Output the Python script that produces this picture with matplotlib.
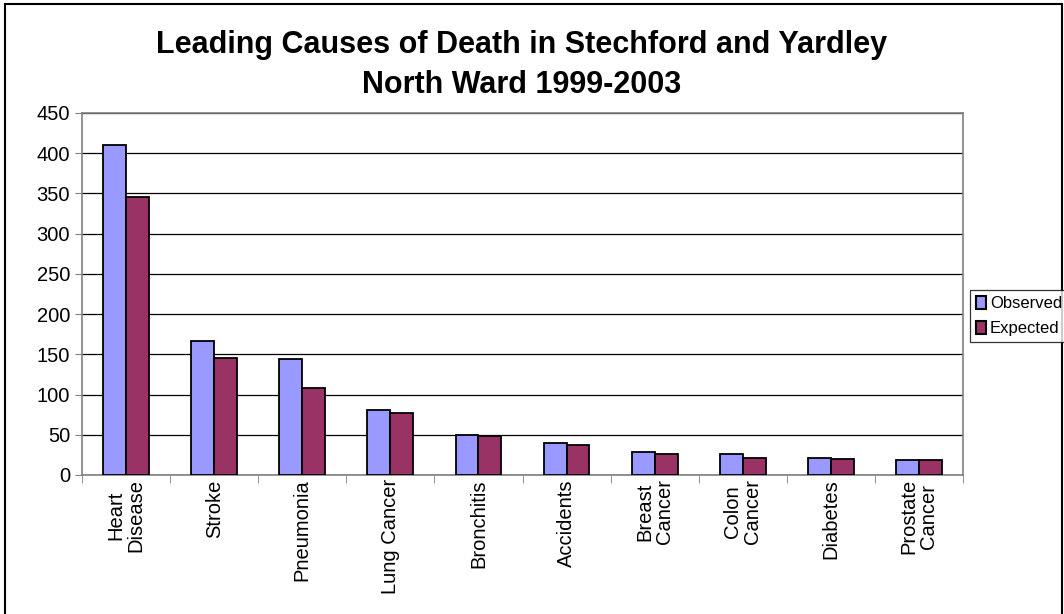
import matplotlib.pyplot as plt
from matplotlib.patches import Rectangle
import numpy as np

plt.rcParams['font.family'] = ['Liberation Sans', 'DejaVu Sans']

categories = ['Heart\nDisease', 'Stroke', 'Pneumonia', 'Lung Cancer', 'Bronchitis',
              'Accidents', 'Breast\nCancer', 'Colon\nCancer', 'Diabetes', 'Prostate\nCancer']
observed = [410, 166, 144, 81, 50, 40, 28, 26, 21, 19]
expected = [345, 145, 108, 77, 49, 37, 26, 21, 20, 19]

fig = plt.figure(figsize=(10.64, 6.14), dpi=100)
ax = fig.add_axes([82 / 1064, 1 - 475 / 614, 881 / 1064, 362 / 614])

# outer chart frame
fig.patches.append(Rectangle((5 / 1064, -0.05), 1057 / 1064, 1.05 - 4 / 614,
                             transform=fig.transFigure, fill=False,
                             edgecolor='black', linewidth=1.5))

x = np.arange(len(categories))
w = 0.26
ax.bar(x - w / 2, observed, w, color='#9999FF', edgecolor='black', linewidth=1.3,
       label='Observed', zorder=3)
ax.bar(x + w / 2, expected, w, color='#993366', edgecolor='black', linewidth=1.3,
       label='Expected', zorder=3)

ax.set_xlim(-0.5, len(categories) - 0.5)
ax.set_ylim(0, 450)
ax.set_yticks(range(0, 451, 50))
ax.yaxis.grid(True, color='black', linewidth=0.9, zorder=0)
ax.set_axisbelow(True)

ax.set_xticks(x)
ax.set_xticklabels(categories, rotation=90, fontsize=14.5, linespacing=1.05)
ax.tick_params(axis='x', length=0, pad=3)
ax.set_xticks(np.arange(-0.5, len(categories)), minor=True)
ax.tick_params(axis='x', which='minor', length=6, direction='out', color='#808080')
ax.tick_params(axis='y', labelsize=14.5, length=5, direction='out', color='#808080')

for s in ax.spines.values():
    s.set_color('#808080')
    s.set_linewidth(1.2)

fig.text(522 / 1064, 1 - 65 / 614,
         'Leading Causes of Death in Stechford and Yardley\nNorth Ward 1999-2003',
         fontsize=22, fontweight='bold', ha='center', va='center', linespacing=1.4)

leg = fig.legend(loc='center left', bbox_to_anchor=(970 / 1064, 1 - 316 / 614),
                 fontsize=12, frameon=True, fancybox=False, edgecolor='black',
                 handlelength=0.6, handleheight=0.8, handletextpad=0.25,
                 borderpad=0.35, borderaxespad=0, labelspacing=0.6)
leg.get_frame().set_linewidth(0.9)
for h in leg.legend_handles:
    h.set_linewidth(1.5)

fig.savefig('out.png', dpi=100)
